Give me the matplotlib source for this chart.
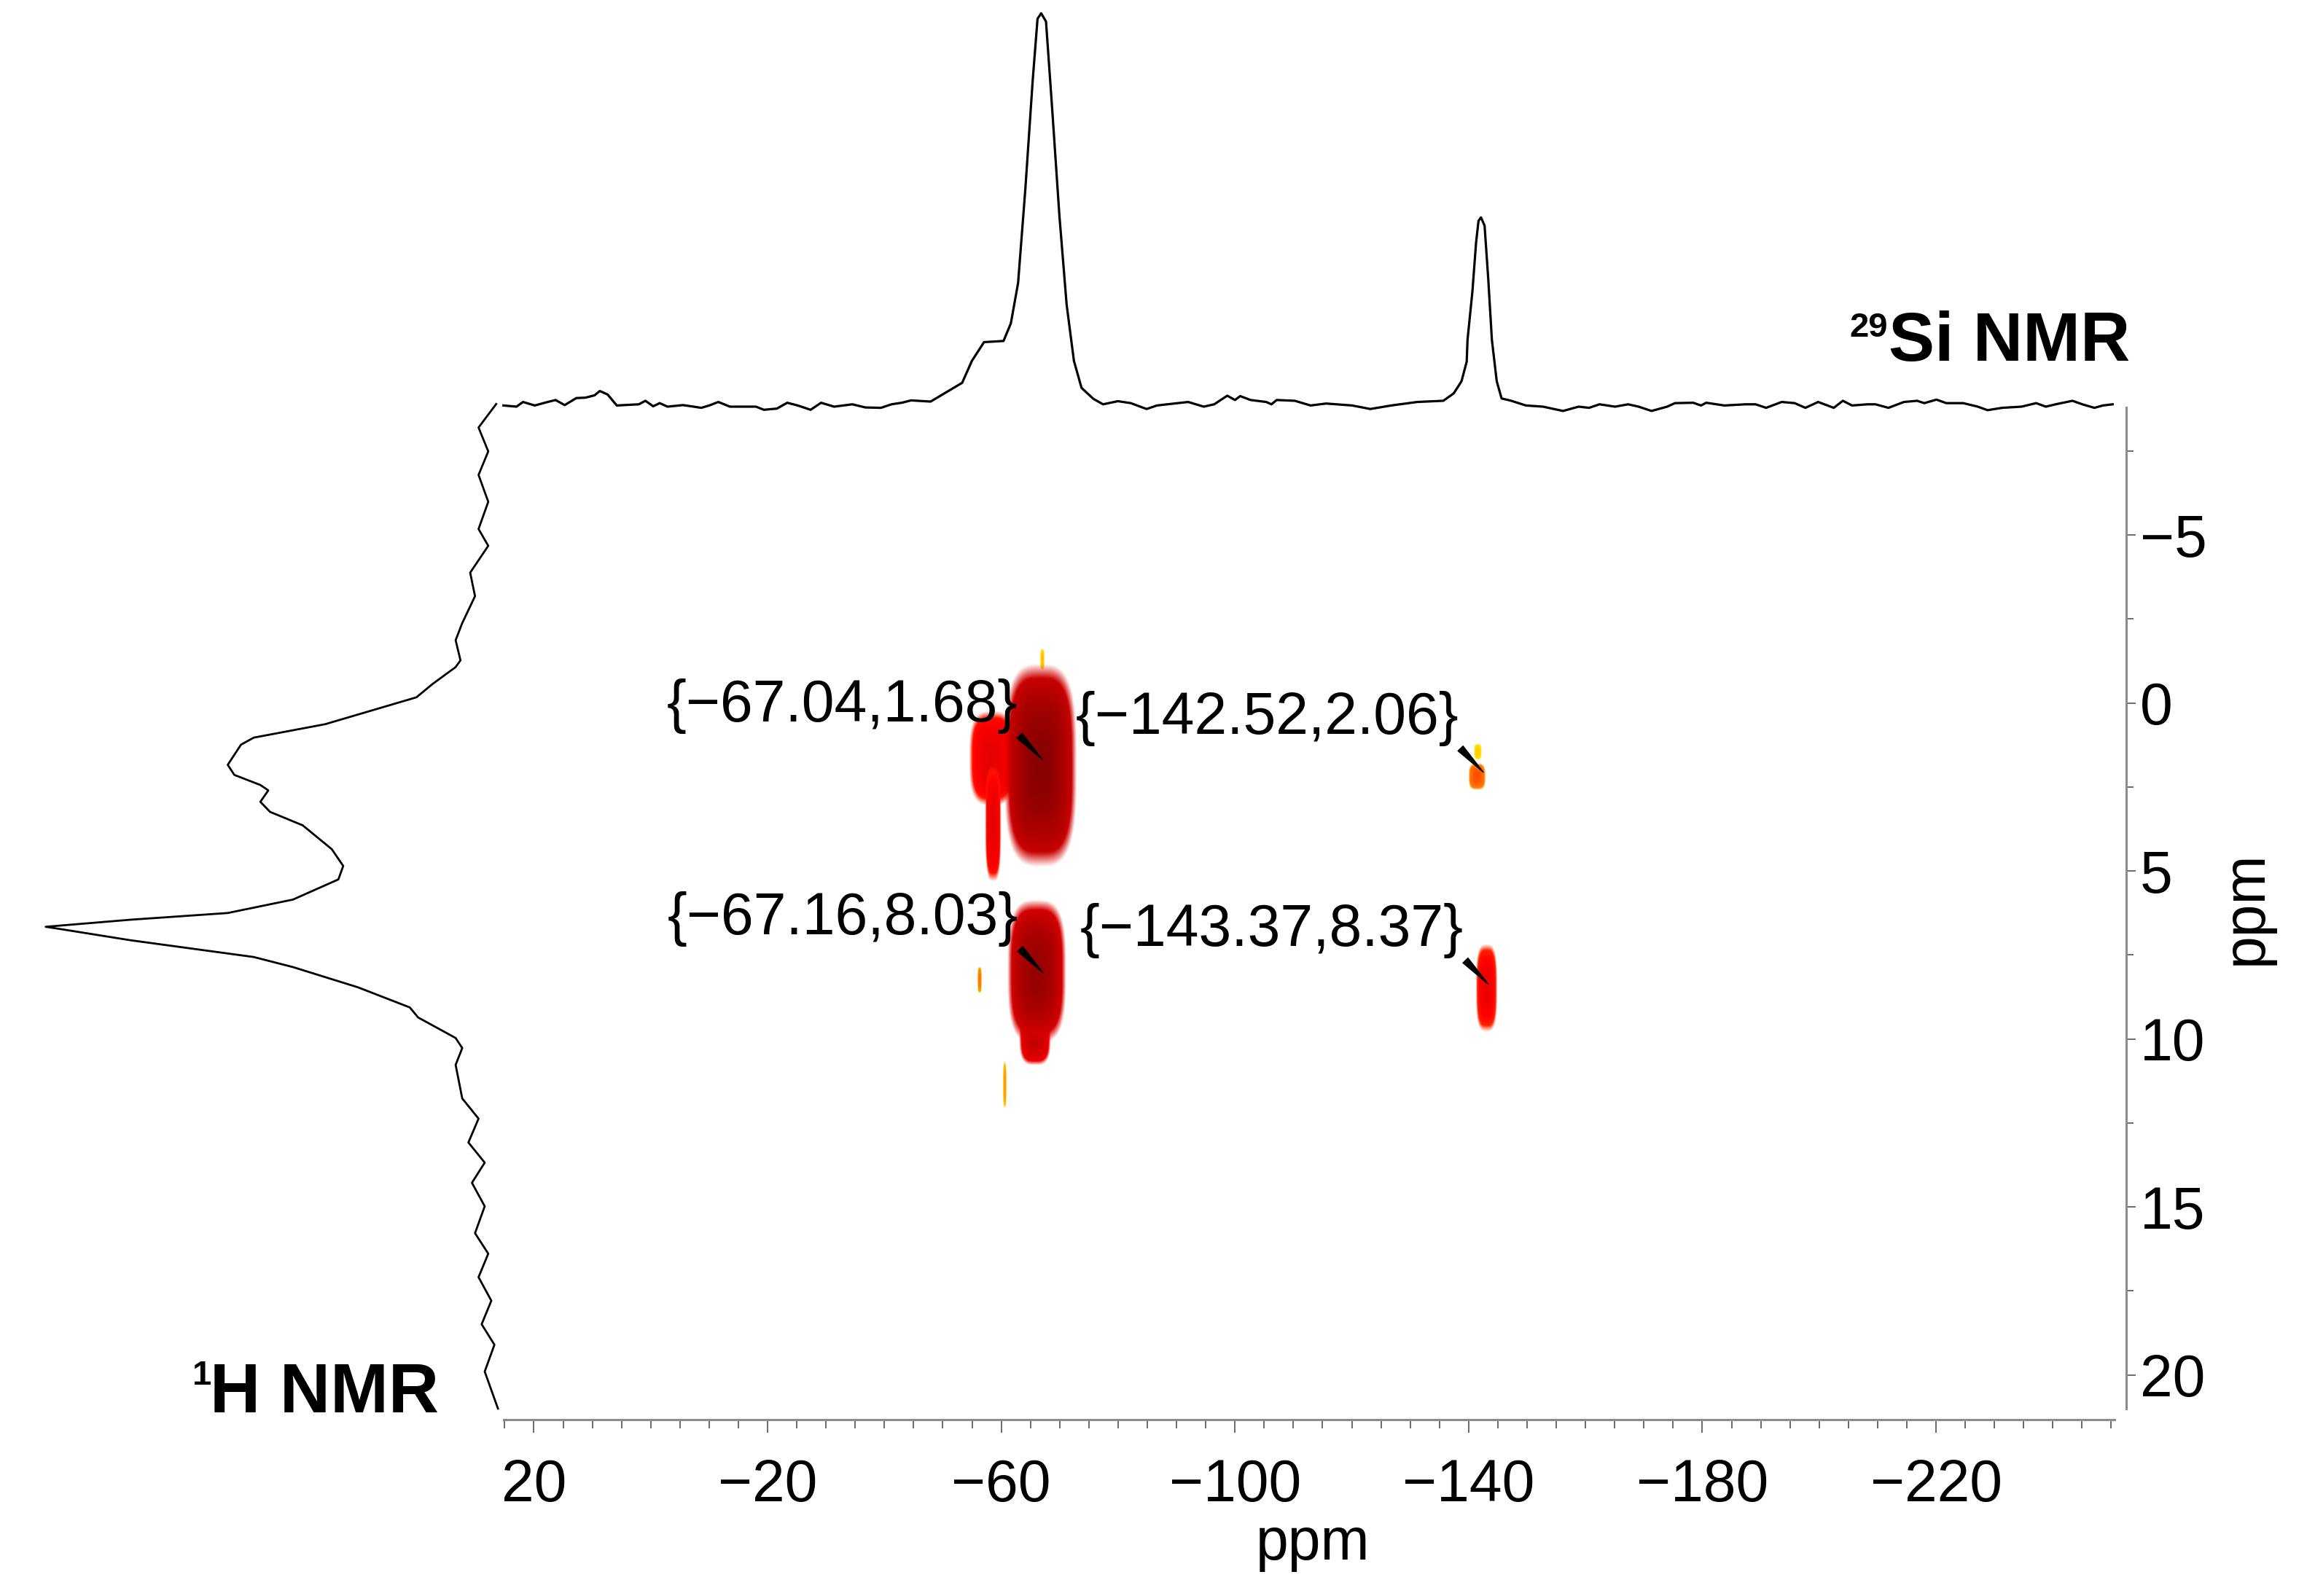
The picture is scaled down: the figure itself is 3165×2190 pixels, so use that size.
import numpy as np
import matplotlib
matplotlib.use("Agg")
import matplotlib.pyplot as plt
from matplotlib.colors import LinearSegmentedColormap
from matplotlib.ticker import FixedLocator

plt.rcParams['font.family'] = ['Liberation Sans', 'DejaVu Sans']

W, H = 3165, 2190

# 29Si projection (top trace)
si_ppm = [25.20, 22.97, 21.86, 19.85, 17.63, 16.29, 14.73, 12.73, 11.17, 9.61, 8.71, 7.37,
          5.81, 2.03, 0.91, -0.42, -1.53, -2.87, -5.54, -8.66, -10.01, -11.57, -13.56, -18.02,
          -19.36, -21.59, -23.37, -25.15, -27.37, -29.16, -31.39, -34.51, -36.73, -39.41, -41.20, -42.97,
          -44.57, -47.91, -53.31, -54.97, -57.05, -60.39, -61.64, -62.88, -64.13, -65.38, -66.21,
          -66.83, -67.66, -68.70, -69.95, -71.19, -72.44, -73.74, -75.77, -77.43, -79.96,
          -82.18, -84.87, -86.64, -91.99, -94.66, -96.45, -98.68, -100.01, -100.90, -102.68, -105.35,
          -106.25, -107.14, -110.26, -112.94, -115.61, -120.06, -123.18, -126.75, -131.21, -135.66,
          -137.45, -138.78, -139.67,
          -139.81, -140.65, -141.27, -141.69, -142.11, -142.73, -143.36, -143.98, -144.81, -145.64,
          -147.30, -149.80, -152.72,
          -156.16, -158.83, -160.61, -162.40, -165.07, -167.30, -169.08, -171.31, -173.98, -175.32,
          -178.44, -179.78, -180.66, -183.78, -187.35, -189.13, -190.92, -193.59, -195.81, -197.64,
          -199.83, -202.50, -204.06, -205.62, -208.29, -209.63, -211.86, -214.52, -216.76,
          -218.00, -220.09, -221.75, -224.66, -227.15, -228.82, -231.32, -234.64, -237.13, -238.80,
          -240.46, -243.37, -245.04, -247.11, -248.57, -250.23]
si_int = [-0.003, -0.006, 0.006, -0.003, 0.006, 0.011, -0.002, 0.016, 0.017, 0.023, 0.034, 0.025,
          -0.003, 0.0, 0.009, -0.005, 0.003, -0.006, -0.002, -0.009, -0.003, 0.006, -0.006, -0.006,
          -0.014, -0.011, 0.004, -0.003, -0.014, 0.004, -0.006, 0.0, -0.008, -0.009, 0.0, 0.004,
          0.010, 0.007, 0.055, 0.111, 0.159, 0.162, 0.207, 0.310, 0.552, 0.828, 0.986,
          1.0, 0.979, 0.759, 0.483, 0.255, 0.111, 0.042, 0.014, 0.0, 0.008,
          0.003, -0.012, -0.003, 0.006, -0.006, 0.0, 0.022, 0.011, 0.021, 0.011, 0.006,
          0.0, 0.011, 0.009, -0.003, 0.002, -0.003, -0.012, -0.003, 0.006, 0.009,
          0.028, 0.059, 0.109,
          0.165, 0.289, 0.413, 0.469, 0.478, 0.457, 0.320, 0.165, 0.059, 0.015,
          0.009, -0.003, -0.006,
          -0.017, -0.006, -0.009, 0.0, -0.006, 0.0, -0.006, -0.017, -0.006, 0.003,
          0.004, -0.003, 0.004, -0.003, 0.0, 0.0, -0.009, 0.006, 0.003, -0.009,
          0.006, -0.009, 0.009, -0.003, 0.0, 0.0, -0.009, 0.006, 0.009,
          0.003, 0.012, 0.003, 0.003, -0.006, -0.015, -0.009, -0.006, 0.003, -0.006,
          0.0, 0.009, 0.0, -0.009, -0.003, 0.0]

# 1H projection (left trace)
h_ppm = [-8.90, -8.20, -7.49, -6.79, -5.99, -5.18, -4.68, -3.88, -3.18, -2.38, -1.87, -1.27,
         -1.07, -0.57, -0.17, 0.63, 1.03, 1.24, 1.84, 2.14, 2.44, 2.60, 2.94, 3.24, 3.64, 4.35,
         4.85, 5.25, 5.85, 6.25, 6.45, 6.66, 6.75, 7.06, 7.56, 7.86, 8.46, 9.06, 9.36, 9.97,
         10.27, 10.77, 11.77, 12.37, 13.08, 13.68, 14.28, 14.98, 15.78, 16.39, 17.09, 17.79,
         18.49, 19.10, 19.90, 21.00]
h_int = [-0.026, 0.014, -0.008, 0.014, -0.008, 0.014, -0.008, 0.033, 0.022, 0.051, 0.066, 0.055,
         0.066, 0.118, 0.155, 0.362, 0.524, 0.553, 0.583, 0.568, 0.509, 0.491, 0.509, 0.487, 0.413, 0.347,
         0.321, 0.332, 0.435, 0.583, 0.804, 0.996, 0.952, 0.804, 0.524, 0.435, 0.288, 0.170, 0.151, 0.066,
         0.051, 0.066, 0.051, 0.014, 0.037, 0.0, 0.029, 0.0, 0.022, -0.008, 0.014, -0.015,
         0.007, -0.022, 0.0, -0.030]

# cross peaks of the 2D map: centre, half extent, relative intensity
blob_si = [-66.6, -58.4, -58.6, -67.0, -66.1, -65.8, -56.2, -60.6, -141.4, -141.6, -143.05]
blob_h = [1.85, 1.65, 3.6, -1.3, 8.0, 9.9, 8.25, 11.36, 2.2, 1.45, 8.48]
blob_wsi = [5.9, 3.7, 1.3, 0.3, 4.8, 2.6, 0.3, 0.25, 1.4, 0.6, 1.75]
blob_wh = [2.89, 1.35, 1.65, 0.3, 2.05, 0.85, 0.38, 0.68, 0.38, 0.22, 1.25]
blob_amp = [1.0, 0.62, 0.62, 0.2, 0.95, 0.8, 0.3, 0.25, 0.36, 0.18, 0.58]

# labelled peak positions
peak_si = [-67.04, -142.52, -67.16, -143.37]
peak_h = [1.68, 2.06, 8.03, 8.37]
peak_labels = ['{\u221267.04,1.68}', '{\u2212142.52,2.06}', '{\u221267.16,8.03}', '{\u2212143.37,8.37}']

x_major = [20, -20, -60, -100, -140, -180, -220]
x_minor = list(range(25, -251, -5))
y_major = [-5, 0, 5, 10, 15, 20]
y_minor = [-7.5, -2.5, 2.5, 7.5, 12.5, 17.5]

XLIM = (25.17, -252.56)
YLIM = (21.33, -8.80)


def px_rect(l, t, r, b):
    return [l / W, 1 - b / H, (r - l) / W, (b - t) / H]


fig = plt.figure(figsize=(W / 100, H / 100), dpi=100)
fig.patch.set_facecolor('white')

ax = fig.add_axes(px_rect(691, 559, 2917, 1948))
ax_top = fig.add_axes(px_rect(691, 0, 2917, 580))
ax_left = fig.add_axes(px_rect(0, 559, 691, 1948))

# 2D map
cmap = LinearSegmentedColormap.from_list('heat', [
    (0.0, '#ffe000'), (0.15, '#ffe000'), (0.25, '#ff9000'), (0.35, '#ff5000'),
    (0.5, '#ff0000'), (0.7, '#d80000'), (0.85, '#b00000'), (1.0, '#8a0000')])

for k in np.argsort(blob_amp, kind='stable'):
    cx, cy = blob_si[k], blob_h[k]
    hx, hy, a = blob_wsi[k], blob_wh[k], blob_amp[k]
    xs = np.linspace(cx - 1.1 * hx, cx + 1.1 * hx, 140)
    ys = np.linspace(cy - 1.1 * hy, cy + 1.1 * hy, 140)
    X, Y = np.meshgrid(xs, ys)
    p = 3.2
    r = (np.abs((X - cx) / hx) ** p + np.abs((Y - cy) / hy) ** p) ** (1 / p)
    rgba = cmap(np.clip(a * (1 - 0.3 * r ** 2), 0, 1))
    rgba[..., 3] = np.clip((1.05 - r) / 0.15, 0, 1)
    ax.imshow(rgba, extent=[xs[0], xs[-1], ys[0], ys[-1]], origin='lower',
              aspect='auto', interpolation='bilinear', zorder=1)

for sx, hy_, lab in zip(peak_si, peak_h, peak_labels):
    ax.annotate(lab, xy=(sx, hy_), xytext=(-24.5, 25.5), textcoords='offset points',
                ha='right', va='bottom', fontsize=58, color='black', zorder=5,
                arrowprops=dict(arrowstyle='wedge,tail_width=0.35,shrink_factor=0.5',
                                color='black', relpos=(1, 0), shrinkA=0, shrinkB=0,
                                mutation_scale=20))

ax.set_xlim(*XLIM)
ax.set_ylim(*YLIM)

for side in ('top', 'left'):
    ax.spines[side].set_visible(False)
for side in ('bottom', 'right'):
    ax.spines[side].set_color('#8c8c8c')
    ax.spines[side].set_linewidth(2.2)
ax.spines['bottom'].set_bounds(25.17, -250.6)
ax.spines['right'].set_bounds(-8.80, 21.0)

ax.xaxis.set_major_locator(FixedLocator(x_major))
ax.xaxis.set_minor_locator(FixedLocator(x_minor))
ax.yaxis.set_major_locator(FixedLocator(y_major))
ax.yaxis.set_minor_locator(FixedLocator(y_minor))
ax.yaxis.tick_right()

ax.tick_params(axis='x', which='major', direction='out', length=13, width=1.1, color='#444444',
               pad=25, labelsize=58, top=False, bottom=True)
ax.tick_params(axis='x', which='minor', direction='out', length=8.6, width=1.1, color='#444444',
               top=False, bottom=True)
ax.tick_params(axis='y', which='major', direction='out', length=9.6, width=1.1, color='#444444',
               pad=4, labelsize=58, left=False, right=True, labelleft=False, labelright=True)
ax.tick_params(axis='y', which='minor', direction='out', length=7.2, width=1.1, color='#444444',
               left=False, right=True)

# projections
ax_top.plot(si_ppm, si_int, color='black', lw=2.3, clip_on=False, solid_joinstyle='round')
ax_top.set_xlim(*XLIM)
ax_top.set_ylim(-0.047, 1.034)
ax_top.axis('off')
ax_top.patch.set_alpha(0)

ax_left.plot(h_int, h_ppm, color='black', lw=2.0, clip_on=False, solid_joinstyle='round')
ax_left.set_xlim(1.0997, -0.043)
ax_left.set_ylim(*YLIM)
ax_left.axis('off')
ax_left.patch.set_alpha(0)

# labels
fig.text(1801 / W, 1 - 2140 / H, 'ppm', ha='center', va='baseline', fontsize=58)
fig.text(3103 / W, 1 - 1246 / H, 'ppm', ha='center', va='baseline', fontsize=58,
         rotation=90, rotation_mode='anchor')

fig.text(2590 / W, 1 - 462 / H, '29', ha='right', va='baseline', fontsize=34, fontweight='bold')
fig.text(2922 / W, 1 - 495 / H, 'Si NMR', ha='right', va='baseline', fontsize=68, fontweight='bold')
fig.text(290 / W, 1 - 1900 / H, '1', ha='right', va='baseline', fontsize=34, fontweight='bold')
fig.text(288 / W, 1 - 1938 / H, 'H NMR', ha='left', va='baseline', fontsize=69, fontweight='bold')

fig.savefig('out.png', dpi=100, facecolor='white')
